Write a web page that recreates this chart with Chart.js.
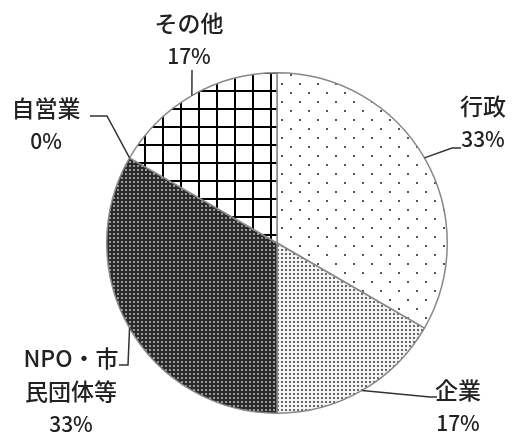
<!DOCTYPE html>
<html lang="ja">
<head>
<meta charset="UTF-8">
<title>pie</title>
<script src="https://cdn.jsdelivr.net/npm/chart.js"></script>
<style>
  html, body { margin: 0; padding: 0; background: #fff; }
  #wrap { width: 512px; height: 436px; }
</style>
</head>
<body>
<div id="wrap"><canvas id="pie" width="512" height="436"></canvas></div>
<script>
// data
const categories = ['行政', '企業', 'NPO・市民団体等', '自営業', 'その他'];
const labelLines = [['行政'], ['企業'], ['NPO・市', '民団体等'], ['自営業'], ['その他']];
const counts = [2, 1, 2, 0, 1];

// label layout: text centre x, first line y, leader bend points
const labelLayout = [
  { x: 483, y: 106, leader: [[452, 148], [461, 148]] },
  { x: 458, y: 390, leader: [[430, 397], [437, 397]] },
  { x: 71, y: 358, leader: [[128, 365], [119, 365]] },
  { x: 46, y: 108, leader: [[107, 116], [90, 116]] },
  { x: 189, y: 23, leader: [[192, 70]] }
];

function makePattern(size, draw) {
  const c = document.createElement('canvas');
  c.width = size; c.height = size;
  const g = c.getContext('2d');
  draw(g, size);
  return document.getElementById('pie').getContext('2d').createPattern(c, 'repeat');
}

const pats = [
  // sparse staggered dots
  makePattern(18, (g) => {
    g.fillStyle = '#fff'; g.fillRect(0, 0, 18, 18);
    g.fillStyle = '#555';
    g.fillRect(2, 2, 2, 2);
    g.fillRect(11, 11, 2, 2);
  }),
  // fine gray dots
  makePattern(4, (g) => {
    g.fillStyle = '#f4f4f4'; g.fillRect(0, 0, 4, 4);
    g.fillStyle = '#666';
    g.fillRect(1, 1, 2, 2);
  }),
  // dark with light dots
  makePattern(4, (g) => {
    g.fillStyle = '#2a2a2a'; g.fillRect(0, 0, 4, 4);
    g.fillStyle = '#999';
    g.fillRect(1, 1, 2, 2);
  }),
  '#888',
  // grid
  makePattern(18, (g) => {
    g.fillStyle = '#fff'; g.fillRect(0, 0, 18, 18);
    g.fillStyle = '#000';
    g.fillRect(0, 0, 2, 18);
    g.fillRect(0, 0, 18, 2);
  })
];

const FONT = '"Noto Sans CJK JP", "Noto Sans", sans-serif';

const labelPlugin = {
  id: 'pieLabels',
  afterDraw(chart) {
    const ctx = chart.ctx;
    const arcs = chart.getDatasetMeta(0).data;
    const total = counts.reduce((a, b) => a + b, 0);
    ctx.save();
    arcs.forEach((arc, i) => {
      const p = arc.getProps(['x', 'y', 'startAngle', 'endAngle', 'outerRadius'], true);
      const mid = (p.startAngle + p.endAngle) / 2;
      const ex = p.x + Math.cos(mid) * p.outerRadius;
      const ey = p.y + Math.sin(mid) * p.outerRadius;
      const lay = labelLayout[i];
      ctx.strokeStyle = '#333';
      ctx.lineWidth = 1.5;
      ctx.beginPath();
      ctx.moveTo(ex, ey);
      lay.leader.forEach(pt => ctx.lineTo(pt[0], pt[1]));
      ctx.stroke();

      ctx.fillStyle = '#222';
      ctx.textAlign = 'center';
      ctx.textBaseline = 'middle';
      const lines = labelLines[i].concat([Math.round(counts[i] / total * 100) + '%']);
      lines.forEach((t, k) => {
        const isPct = k === lines.length - 1;
        ctx.font = (isPct ? '500 21px ' : '500 23px ') + FONT;
        ctx.fillText(t, lay.x, lay.y + k * 33);
      });
    });
    ctx.restore();
  }
};

new Chart(document.getElementById('pie'), {
  type: 'pie',
  data: {
    labels: categories,
    datasets: [{
      data: counts,
      backgroundColor: pats,
      borderColor: '#888',
      borderWidth: 1.5
    }]
  },
  options: {
    responsive: false,
    animation: false,
    layout: { padding: { left: 106, right: 64, top: 72, bottom: 22 } },
    plugins: { legend: { display: false }, tooltip: { enabled: false } }
  },
  plugins: [labelPlugin]
});
</script>
</body>
</html>
